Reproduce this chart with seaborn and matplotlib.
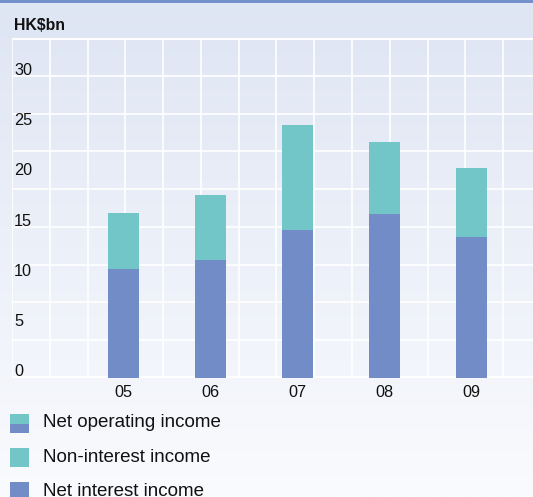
import numpy as np
import pandas as pd
import matplotlib
matplotlib.use("Agg")
import matplotlib.pyplot as plt
import seaborn as sns
from matplotlib.patches import Rectangle
from matplotlib import transforms

# ---- data ----
years = ["05", "06", "07", "08", "09"]
net_interest = [10.8, 11.7, 14.7, 16.3, 14.0]
non_interest = [5.6, 6.5, 10.4, 7.2, 6.9]
y_ticks = [0, 5, 10, 15, 20, 25, 30]
legend_labels = ["Net operating income", "Non-interest income", "Net interest income"]
unit_label = "HK$bn"

TEAL = "#73c6c7"
BLUE = "#728cc7"
FONT = "Liberation Sans"

df = pd.DataFrame({"year": years, "nii": net_interest, "nonii": non_interest})
df["total"] = df["nii"] + df["nonii"]

sns.set_theme(style="white")
plt.rcParams["font.family"] = [FONT, "DejaVu Sans"]

W, H = 533, 497
fig = plt.figure(figsize=(W / 100, H / 100), dpi=100)

# background gradient
bg = fig.add_axes([0, 0, 1, 1], zorder=-10)
top_c = np.array([222, 229, 243]) / 255
bot_c = np.array([250, 251, 254]) / 255
t = np.linspace(0, 1, 256)[:, None]
grad = top_c[None, :] * (1 - t) + bot_c[None, :] * t
bg.imshow(grad[:, None, :], aspect="auto", extent=[0, 1, 0, 1])
bg.add_patch(Rectangle((0, 1 - 3 / H), 1, 3 / H, color="#7491cc", lw=0))
bg.set_xlim(0, 1); bg.set_ylim(0, 1)
bg.axis("off")

rect = [12 / W, (H - 378) / H, 521 / W, 340 / H]

# decorative square grid
ga = fig.add_axes(rect, zorder=-5)
ga.set_facecolor("none")
ga.set_xlim(0, 521); ga.set_ylim(0, 340)
cell = 340 / 9
for gx in np.arange(0, 521, cell):
    ga.axvline(gx, color="white", lw=1.2)
for gy in np.arange(0, 341, cell):
    ga.axhline(gy, color="white", lw=1.2)
ga.axhline(340, color="white", lw=2.2)
ga.axhline(0, color="white", lw=3)
for s in ga.spines.values():
    s.set_visible(False)
ga.set_xticks([]); ga.set_yticks([])

# bars
ax = fig.add_axes(rect, zorder=0)
ax.set_facecolor("none")
sns.barplot(data=df, x="year", y="total", color=TEAL, width=0.356,
            saturation=1, ax=ax, zorder=3, linewidth=0, edgecolor="none")
sns.barplot(data=df, x="year", y="nii", color=BLUE, width=0.356,
            saturation=1, ax=ax, zorder=4, linewidth=0, edgecolor="none")
ax.set_xlim(-1.282, 4.707)
ax.set_ylim(0, 340 / 10.06)
for s in ax.spines.values():
    s.set_visible(False)
ax.set_xlabel(""); ax.set_ylabel("")
ax.set_yticks([])
ax.tick_params(axis="x", length=0, pad=5, labelsize=11.7, labelcolor="#111111")
for lab in ax.get_xticklabels():
    lab.set_fontfamily(FONT)

off = transforms.ScaledTranslation(0, 6 / 100, fig.dpi_scale_trans)
trans = transforms.blended_transform_factory(ax.transAxes, ax.transData) + off
for v in y_ticks:
    ax.text(2 / 521, v, str(v), transform=trans, ha="left", va="center",
            fontsize=11.7, color="#111111", fontfamily=FONT, zorder=5)

fig.text(14 / W, 1 - 25 / H, unit_label, ha="left", va="center",
         fontsize=11.4, fontweight="bold", color="#111111", fontfamily=FONT)

# legend
def px_rect(x0, y0, x1, y1, color):
    fig.add_artist(Rectangle((x0 / W, 1 - y1 / H), (x1 - x0) / W, (y1 - y0) / H,
                             transform=fig.transFigure, color=color, lw=0))

px_rect(10, 414, 29, 423.5, TEAL)
px_rect(10, 423.5, 29, 433, BLUE)
px_rect(10, 448, 29, 467, TEAL)
px_rect(10, 482, 29, 501, BLUE)
for lab, yc in zip(legend_labels, [422.5, 457, 491]):
    fig.text(43 / W, 1 - yc / H, lab, ha="left", va="center", fontsize=13.5,
             color="#111111", fontfamily=FONT)

fig.savefig("out.png", dpi=100)
